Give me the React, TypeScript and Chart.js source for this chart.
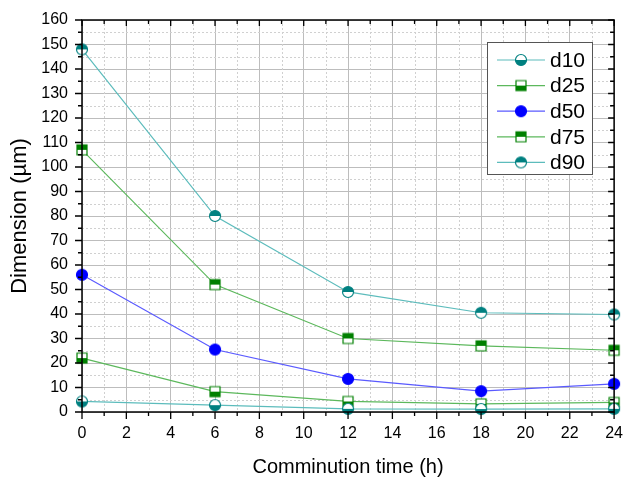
import React, { useEffect, useRef } from "react";
import { Chart, registerables } from "chart.js";

Chart.register(...registerables);

const times = [0, 6, 12, 18, 24];
const d10 = [4.3, 2.8, 1.3, 1.2, 1.3];
const d25 = [22, 8.3, 4.3, 3.3, 3.9];
const d50 = [56, 25.5, 13.5, 8.5, 11.5];
const d75 = [107, 52, 30, 27, 25.2];
const d90 = [148, 80, 49, 40.5, 39.8];
const seriesNames = ["d10", "d25", "d50", "d75", "d90"];

const TEAL = "#008080";
const TEAL_LINE = "#5cbcbc";
const GREEN = "#008000";
const GREEN_LINE = "#5cb85c";
const BLUE = "#0000ff";
const BLUE_LINE = "#5a5aff";
const FONT = "'Liberation Sans', Arial, sans-serif";

function makeMarker(shape: string, color: string, fill: string) {
  const s = 14;
  const c = document.createElement("canvas");
  c.width = s;
  c.height = s;
  const ctx = c.getContext("2d")!;
  const cx = s / 2, cy = s / 2;
  const r = 5.5;
  const path = () => {
    ctx.beginPath();
    if (shape === "circle") ctx.arc(cx, cy, r, 0, Math.PI * 2);
    else ctx.rect(cx - r + 0.5, cy - r + 0.5, 2 * r - 1, 2 * r - 1);
  };
  path();
  ctx.fillStyle = "#ffffff";
  ctx.fill();
  ctx.save();
  path();
  ctx.clip();
  ctx.fillStyle = color;
  if (fill === "full") ctx.fillRect(0, 0, s, s);
  else if (fill === "bottom") ctx.fillRect(0, cy, s, s);
  else ctx.fillRect(0, 0, s, cy);
  ctx.restore();
  path();
  ctx.strokeStyle = color;
  ctx.lineWidth = 1.2;
  ctx.stroke();
  return c;
}

export default function App() {
  const ref = useRef<HTMLCanvasElement>(null);
  useEffect(() => {
    document.body.style.margin = "0";
    const markers = [
      makeMarker("circle", TEAL, "bottom"),
      makeMarker("rect", GREEN, "bottom"),
      makeMarker("circle", BLUE, "full"),
      makeMarker("rect", GREEN, "top"),
      makeMarker("circle", TEAL, "top"),
    ];
    const lineColors = [TEAL_LINE, GREEN_LINE, BLUE_LINE, GREEN_LINE, TEAL_LINE];
    const values = [d10, d25, d50, d75, d90];

    const framePlugin = {
      id: "frame",
      beforeDatasetsDraw(chart: any) {
        const { ctx, chartArea: a, scales } = chart;
        const x = scales.x, y = scales.y;
        ctx.save();
        ctx.strokeStyle = "#d0d0d0";
        ctx.lineWidth = 1;
        ctx.setLineDash([2, 2]);
        for (let v = 1; v < 24; v += 2) {
          const px = Math.round(x.getPixelForValue(v)) + 0.5;
          ctx.beginPath();
          ctx.moveTo(px, a.top);
          ctx.lineTo(px, a.bottom);
          ctx.stroke();
        }
        for (let v = 5; v < 160; v += 10) {
          const py = Math.round(y.getPixelForValue(v)) + 0.5;
          ctx.beginPath();
          ctx.moveTo(a.left, py);
          ctx.lineTo(a.right, py);
          ctx.stroke();
        }
        ctx.restore();
      },
      afterDatasetsDraw(chart: any) {
        const { ctx, chartArea: a, scales } = chart;
        const x = scales.x, y = scales.y;
        ctx.save();
        ctx.strokeStyle = "#000";
        ctx.lineWidth = 1.5;
        ctx.strokeRect(a.left, a.top, a.right - a.left, a.bottom - a.top);
        ctx.lineWidth = 1.3;
        for (let v = 0; v <= 24; v++) {
          const px = x.getPixelForValue(v);
          const major = v % 2 === 0;
          ctx.beginPath();
          ctx.moveTo(px, a.bottom);
          ctx.lineTo(px, a.bottom + (major ? 7 : 4));
          ctx.moveTo(px, a.top);
          ctx.lineTo(px, a.top + (major ? 6 : 4));
          ctx.stroke();
        }
        for (let v = 0; v <= 160; v += 5) {
          const py = y.getPixelForValue(v);
          const major = v % 10 === 0;
          ctx.beginPath();
          ctx.moveTo(a.left, py);
          ctx.lineTo(a.left - (major ? 7 : 4), py);
          ctx.moveTo(a.right, py);
          ctx.lineTo(a.right - (major ? 6 : 4), py);
          ctx.stroke();
        }
        ctx.restore();

        // legend
        ctx.save();
        const bx = 487, by = 42, bw = 105, bh = 132;
        ctx.fillStyle = "#ffffff";
        ctx.fillRect(bx, by, bw, bh);
        ctx.strokeStyle = "#555";
        ctx.lineWidth = 1;
        ctx.strokeRect(bx + 0.5, by + 0.5, bw, bh);
        ctx.font = "21px " + FONT;
        ctx.textBaseline = "middle";
        ctx.fillStyle = "#000";
        for (let i = 0; i < 5; i++) {
          const ly = 60 + i * 25.6;
          ctx.strokeStyle = lineColors[i];
          ctx.lineWidth = 1.2;
          ctx.beginPath();
          ctx.moveTo(497, ly);
          ctx.lineTo(545, ly);
          ctx.stroke();
          ctx.drawImage(markers[i], 521 - 7, ly - 7);
          ctx.fillText(seriesNames[i], 550, ly + 1);
        }
        ctx.restore();
      },
    };

    const chart = new Chart(ref.current!, {
      type: "line",
      data: {
        datasets: seriesNames.map((n, i) => ({
          label: n,
          data: times.map((t, j) => ({ x: t, y: values[i][j] })),
          borderColor: lineColors[i],
          borderWidth: 1.2,
          pointStyle: markers[i] as any,
          pointRadius: 7,
          clip: false as any,
          tension: 0,
        })),
      },
      options: {
        animation: false,
        responsive: false,
        layout: { padding: { top: 20, right: 10, left: 0, bottom: 0 } },
        plugins: { legend: { display: false }, tooltip: { enabled: false } },
        scales: {
          x: {
            type: "linear",
            min: 0,
            max: 24,
            ticks: {
              stepSize: 2,
              color: "#000",
              font: { size: 16, family: FONT },
              padding: 6,
            },
            grid: { color: "#bdbdbd", lineWidth: 1, drawTicks: true, tickLength: 6, tickColor: "rgba(0,0,0,0)" },
            border: { display: false },
            title: {
              display: true,
              text: "Comminution time (h)",
              color: "#000",
              font: { size: 20, family: FONT },
              padding: { top: 8, bottom: 1 },
            },
            afterFit: (s: any) => { s.height = 68; },
          },
          y: {
            min: 0,
            max: 160,
            ticks: {
              stepSize: 10,
              color: "#000",
              font: { size: 16, family: FONT },
              padding: 8,
            },
            grid: { color: "#bdbdbd", lineWidth: 1, tickLength: 6, tickColor: "rgba(0,0,0,0)" },
            border: { display: false },
            title: {
              display: true,
              text: "Dimension (µm)",
              color: "#000",
              font: { size: 22, family: FONT },
              padding: { top: 7, bottom: 4 },
            },
            afterFit: (s: any) => { s.width = 82; },
          },
        },
      },
      plugins: [framePlugin],
    });
    return () => chart.destroy();
  }, []);
  return <canvas ref={ref} width={629} height={480} style={{ display: "block" }} />;
}
